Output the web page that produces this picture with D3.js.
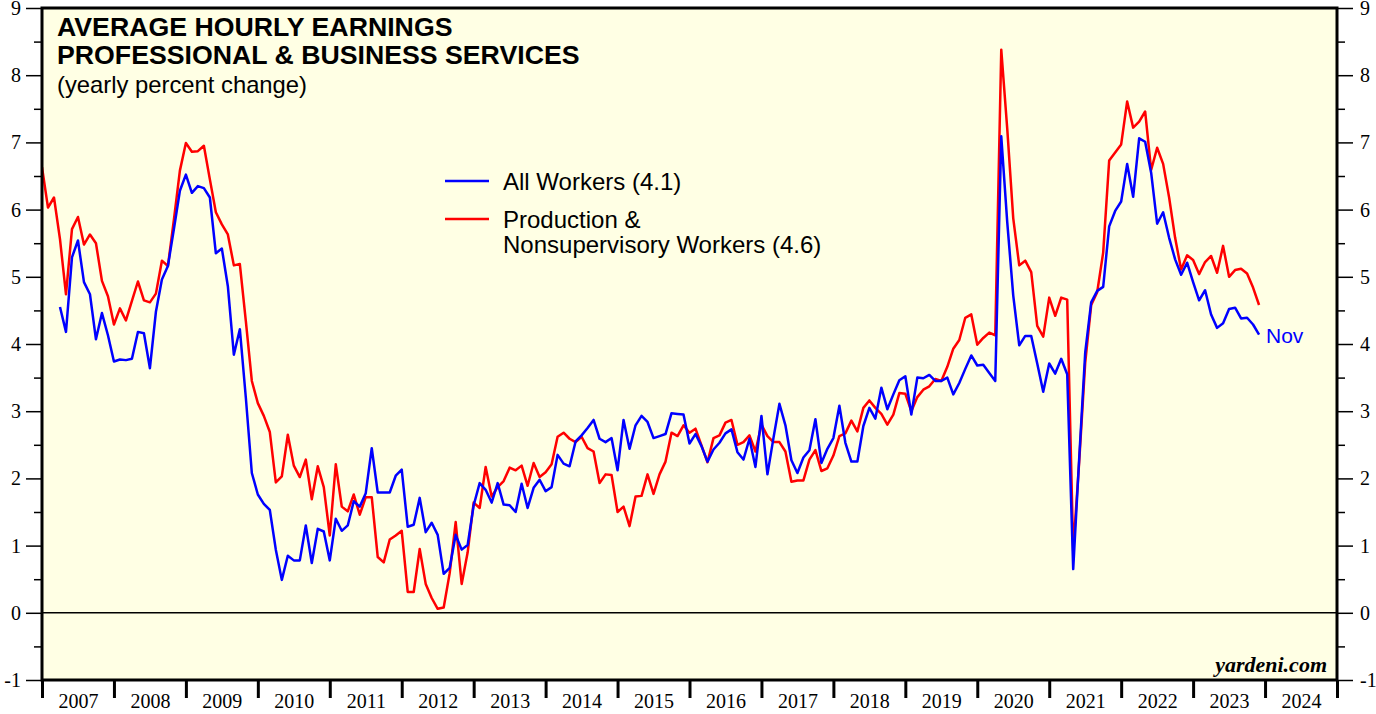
<!DOCTYPE html>
<html>
<head>
<meta charset="utf-8">
<script src="https://cdnjs.cloudflare.com/ajax/libs/d3/7.8.5/d3.min.js"></script>
<style>
  body { margin: 0; background: #fff; }
  svg { display: block; }
  .tick text { font-family: "Liberation Serif", "Times New Roman", serif; font-size: 20px; fill: #000; }
  .sans { font-family: "Liberation Sans", Arial, Helvetica, sans-serif; }
</style>
</head>
<body>
<svg id="chart" width="1376" height="714"></svg>
<script>
"use strict";

// ----------------------------------------
//  Data: yearly percent change, monthly
// ----------------------------------------
const yearLabels = [2007, 2008, 2009, 2010, 2011, 2012, 2013, 2014, 2015,
                    2016, 2017, 2018, 2019, 2020, 2021, 2022, 2023, 2024];
const yTicks = [-1, 0, 1, 2, 3, 4, 5, 6, 7, 8, 9];

// All workers, first value = Mar 2007
const allWorkersStart = [2007, 3];
const allWorkers = [
  4.55, 4.18, 5.29, 5.54, 4.92, 4.74, 4.07, 4.46, 4.13, 3.74,
  3.77, 3.76, 3.78, 4.18, 4.16, 3.64, 4.48, 4.96, 5.16, 5.71, 6.28, 6.52,
  6.25, 6.35, 6.32, 6.18, 5.35, 5.42, 4.86, 3.84, 4.22, 3.20, 2.08, 1.76,
  1.62, 1.53, 0.94, 0.49, 0.85, 0.78, 0.78, 1.30, 0.74, 1.25, 1.21, 0.78,
  1.40, 1.22, 1.30, 1.66, 1.58, 1.78, 2.45, 1.79, 1.79, 1.79, 2.04, 2.13,
  1.28, 1.31, 1.71, 1.20, 1.34, 1.16, 0.58, 0.67, 1.16, 0.94, 1.01, 1.60,
  1.93, 1.83, 1.64, 1.93, 1.61, 1.60, 1.50, 1.92, 1.56, 1.86, 1.98, 1.81,
  1.87, 2.35, 2.22, 2.18, 2.55, 2.64, 2.75, 2.87, 2.59, 2.54, 2.60, 2.12,
  2.87, 2.44, 2.79, 2.93, 2.84, 2.60, 2.63, 2.66, 2.97, 2.96, 2.95, 2.52,
  2.66, 2.48, 2.25, 2.43, 2.53, 2.67, 2.73, 2.39, 2.28, 2.59, 2.17, 2.93,
  2.06, 2.60, 3.11, 2.79, 2.27, 2.08, 2.31, 2.42, 2.88, 2.23, 2.44, 2.60,
  3.08, 2.53, 2.25, 2.25, 2.78, 3.05, 2.89, 3.35, 3.03, 3.25, 3.46, 3.52,
  2.95, 3.50, 3.49, 3.54, 3.45, 3.45, 3.50, 3.25, 3.42, 3.63, 3.83, 3.68,
  3.69, 3.57, 3.45, 7.09, 5.81, 4.72, 3.98, 4.12, 4.12, 3.71, 3.29, 3.71,
  3.56, 3.78, 3.55, 0.65, 2.30, 3.87, 4.62, 4.79, 4.85, 5.75, 5.98, 6.12,
  6.68, 6.19, 7.06, 7.01, 6.55, 5.79, 5.96, 5.58, 5.26, 5.03, 5.21, 4.92,
  4.65, 4.80, 4.44, 4.24, 4.31, 4.52, 4.54, 4.38, 4.39, 4.29, 4.14
];

// Production & nonsupervisory workers, first value = Dec 2006
const prodWorkersStart = [2006, 12];
const prodWorkers = [
  6.63, 6.03, 6.18, 5.56, 4.74, 5.71, 5.89, 5.48, 5.63, 5.50, 4.94, 4.71,
  4.29, 4.53, 4.35, 4.64, 4.93, 4.65, 4.62, 4.75, 5.24, 5.16, 5.85, 6.58,
  6.99, 6.86, 6.87, 6.95, 6.45, 5.96, 5.78, 5.63, 5.17, 5.19, 4.34, 3.45,
  3.12, 2.93, 2.69, 1.94, 2.03, 2.65, 2.19, 2.02, 2.28, 1.69, 2.18, 1.87,
  1.15, 2.21, 1.58, 1.51, 1.76, 1.46, 1.72, 1.72, 0.83, 0.75, 1.09, 1.15,
  1.22, 0.31, 0.31, 0.95, 0.43, 0.22, 0.06, 0.08, 0.59, 1.35, 0.43, 0.90,
  1.64, 1.56, 2.17, 1.73, 1.87, 1.96, 2.16, 2.12, 2.19, 1.89, 2.23, 2.02,
  2.09, 2.21, 2.62, 2.68, 2.59, 2.54, 2.62, 2.45, 2.40, 1.93, 2.06, 2.05,
  1.50, 1.58, 1.29, 1.73, 1.74, 2.06, 1.77, 2.06, 2.25, 2.68, 2.63, 2.79,
  2.68, 2.74, 2.49, 2.24, 2.60, 2.64, 2.83, 2.87, 2.50, 2.54, 2.64, 2.40,
  2.80, 2.63, 2.54, 2.54, 2.40, 1.95, 1.97, 1.97, 2.28, 2.42, 2.11, 2.15,
  2.34, 2.63, 2.67, 2.86, 2.70, 3.05, 3.16, 3.05, 2.96, 2.80, 2.95, 3.27,
  3.26, 3.00, 3.21, 3.32, 3.37, 3.48, 3.45, 3.66, 3.93, 4.06, 4.39, 4.44,
  3.99, 4.09, 4.17, 4.13, 8.38, 7.20, 5.87, 5.17, 5.24, 5.07, 4.27, 4.11,
  4.69, 4.42, 4.69, 4.66, 0.92, 2.25, 3.72, 4.58, 4.77, 5.36, 6.73, 6.85,
  6.97, 7.61, 7.22, 7.31, 7.46, 6.59, 6.92, 6.68, 6.18, 5.58, 5.11, 5.32,
  5.25, 5.04, 5.22, 5.31, 5.06, 5.46, 5.00, 5.10, 5.12, 5.05, 4.84, 4.58
];

// month m plotted at the end of the month
function toPoints(start, values) {
    return values.map(function(v, i) {
        return { t: start[0] + (start[1] + i) / 12, v: v };
    });
}

// ----------------------------------------
//  Scales
// ----------------------------------------
const plotLeft = 42, plotRight = 1337, plotTop = 8, plotBottom = 680;

let x_scale = d3.scaleLinear()
    .domain([2007, 2025])
    .range([plotLeft, plotRight]);

let y_scale = d3.scaleLinear()
    .domain([-1, 9])
    .range([plotBottom, plotTop]);

let svg = d3.select("#chart");

svg.append("rect")
    .attr("x", plotLeft).attr("y", plotTop)
    .attr("width", plotRight - plotLeft).attr("height", plotBottom - plotTop)
    .attr("fill", "#ffffe4");

svg.append("defs").append("clipPath").attr("id", "plotclip")
    .append("rect")
    .attr("x", plotLeft).attr("y", plotTop)
    .attr("width", plotRight - plotLeft).attr("height", plotBottom - plotTop);

// ----------------------------------------
//  Axes
// ----------------------------------------
let halfTicks = d3.range(-0.5, 9, 1);
let plainNum = function(d) { return String(d); };   // "-1" with a hyphen, as in the original

function styleAxis(g) {
    g.select(".domain").remove();
    g.selectAll(".tick line").attr("stroke", "#000").attr("stroke-width", 1.5);
}

svg.append("g")
    .attr("transform", "translate(" + plotLeft + ",0)")
    .call(d3.axisLeft(y_scale).tickValues(yTicks).tickSize(16).tickPadding(5).tickFormat(plainNum))
    .call(styleAxis);
svg.append("g")
    .attr("transform", "translate(" + plotLeft + ",0)")
    .call(d3.axisLeft(y_scale).tickValues(halfTicks).tickSize(8).tickFormat(""))
    .call(styleAxis);

svg.append("g")
    .attr("transform", "translate(" + plotRight + ",0)")
    .call(d3.axisRight(y_scale).tickValues(yTicks).tickSize(16).tickPadding(7).tickFormat(plainNum))
    .call(styleAxis);
svg.append("g")
    .attr("transform", "translate(" + plotRight + ",0)")
    .call(d3.axisRight(y_scale).tickValues(halfTicks).tickSize(8).tickFormat(""))
    .call(styleAxis);

// year boundaries
svg.append("g")
    .attr("transform", "translate(0," + plotBottom + ")")
    .call(d3.axisBottom(x_scale).tickValues(yearLabels.concat([2025])).tickSize(18).tickFormat(""))
    .call(styleAxis)
    .selectAll(".tick line").attr("stroke-width", 3);

// year labels centered in each year
svg.append("g")
    .attr("transform", "translate(0," + plotBottom + ")")
    .call(d3.axisBottom(x_scale).tickValues(yearLabels.map(function(d) { return d + 0.5; }))
        .tickSize(0).tickPadding(14).tickFormat(function(d) { return String(Math.floor(d)); }))
    .call(styleAxis);

// zero line
svg.append("line")
    .attr("x1", plotLeft).attr("x2", plotRight)
    .attr("y1", y_scale(0)).attr("y2", y_scale(0))
    .attr("stroke", "#000").attr("stroke-width", 1.5);

// ----------------------------------------
//  Lines
// ----------------------------------------
let line = d3.line()
    .x(function(d) { return x_scale(d.t); })
    .y(function(d) { return y_scale(d.v); });

let plot = svg.append("g").attr("clip-path", "url(#plotclip)");

plot.append("path")
    .datum(toPoints(prodWorkersStart, prodWorkers))
    .attr("d", line)
    .attr("fill", "none").attr("stroke", "#ff0000").attr("stroke-width", 2.5)
    .attr("stroke-linejoin", "round");

plot.append("path")
    .datum(toPoints(allWorkersStart, allWorkers))
    .attr("d", line)
    .attr("fill", "none").attr("stroke", "#0000ff").attr("stroke-width", 2.5)
    .attr("stroke-linejoin", "round");

// frame
svg.append("rect")
    .attr("x", plotLeft).attr("y", plotTop)
    .attr("width", plotRight - plotLeft).attr("height", plotBottom - plotTop)
    .attr("fill", "none").attr("stroke", "#000").attr("stroke-width", 3);

// ----------------------------------------
//  Titles, legend, notes
// ----------------------------------------
svg.append("text").attr("class", "sans")
    .attr("x", 57).attr("y", 36)
    .attr("font-size", 26.7).attr("font-weight", "bold")
    .text("AVERAGE HOURLY EARNINGS");
svg.append("text").attr("class", "sans")
    .attr("x", 57).attr("y", 64)
    .attr("font-size", 26.7).attr("font-weight", "bold")
    .text("PROFESSIONAL & BUSINESS SERVICES");
svg.append("text").attr("class", "sans")
    .attr("x", 57).attr("y", 93)
    .attr("font-size", 23.8)
    .text("(yearly percent change)");

let legend = [
    { color: "#0000ff", y: 181, lines: ["All Workers (4.1)"] },
    { color: "#ff0000", y: 219, lines: ["Production &", "Nonsupervisory Workers (4.6)"] }
];
legend.forEach(function(d) {
    svg.append("line")
        .attr("x1", 445).attr("x2", 489)
        .attr("y1", d.y).attr("y2", d.y)
        .attr("stroke", d.color).attr("stroke-width", 2.5);
    d.lines.forEach(function(t, i) {
        svg.append("text").attr("class", "sans")
            .attr("x", 503).attr("y", d.y + 9 + i * 25)
            .attr("font-size", 24).attr("fill", "#000")
            .text(t);
    });
});

svg.append("text").attr("class", "sans")
    .attr("x", 1266).attr("y", 343)
    .attr("font-size", 21).attr("fill", "#0000ff")
    .text("Nov");

svg.append("text")
    .attr("x", 1327).attr("y", 672)
    .attr("text-anchor", "end")
    .attr("font-family", "'Liberation Serif', 'Times New Roman', serif")
    .attr("font-size", 22).attr("font-weight", "bold").attr("font-style", "italic")
    .text("yardeni.com");
</script>
</body>
</html>
